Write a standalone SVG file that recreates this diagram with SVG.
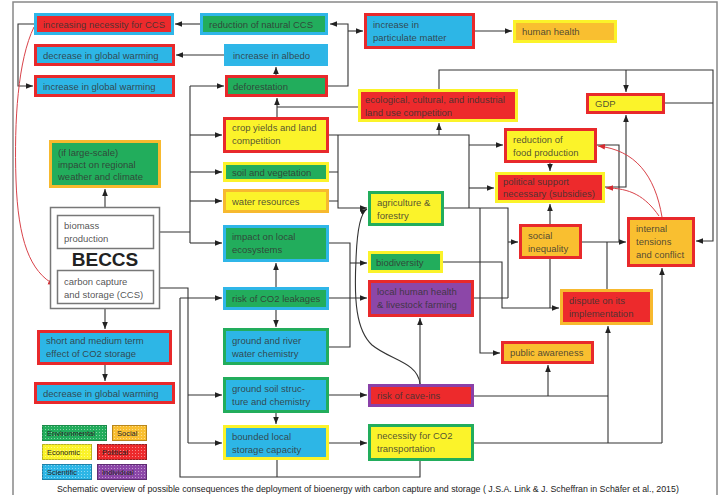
<svg xmlns="http://www.w3.org/2000/svg" width="725" height="495" viewBox="0 0 725 495">
<defs>
<style>
text{font-family:"Liberation Sans",Arial,sans-serif;font-size:9.5px;fill:#333;fill-opacity:0.85}
.n{stroke-width:3}
.fr{fill:#ed2a2c}.fb{fill:#2db6e6}.fg{fill:#22ad5c}.fy{fill:#fbf32a}.fo{fill:#f9bf30}.fp{fill:#8c47a8}
.sr{stroke:#e8292b}.sb{stroke:#2fb6e8}.sg{stroke:#22ad5c}.sy{stroke:#fbf32a}.so{stroke:#f7b92e}.sp{stroke:#8a40a8}
.w{fill:#fff;stroke:#777;stroke-width:1.5}
.c{fill:none;stroke:#333;stroke-width:1.1}
.ca{fill:none;stroke:#333;stroke-width:1.1;marker-end:url(#ah)}
.cr{fill:none;stroke:#d9434a;stroke-width:1;marker-end:url(#ahr)}
.lg{stroke-width:1}
.lt{font-size:7.5px;fill:#222;fill-opacity:1}
</style>
<marker id="ah" viewBox="0 0 10 10" refX="10" refY="5" markerWidth="7" markerHeight="7" markerUnits="userSpaceOnUse" orient="auto"><path d="M0,1 L10,5 L0,9z" fill="#222"/></marker>
<marker id="ahr" viewBox="0 0 10 10" refX="10" refY="5" markerWidth="7" markerHeight="7" markerUnits="userSpaceOnUse" orient="auto"><path d="M0,1 L10,5 L0,9z" fill="#d62a30"/></marker>
<pattern id="dots" width="3" height="3" patternUnits="userSpaceOnUse"><rect width="1" height="1" fill="#fff" opacity="0.45"/></pattern>
</defs>
<rect width="725" height="495" fill="#fff"/>
<rect x="13" y="2" width="704" height="500" fill="none" stroke="#888" stroke-width="1.5"/>

<g id="connectors">
<path class="ca" d="M200,24 H175"/>
<path class="ca" d="M224,55 H176"/>
<path class="ca" d="M34,24 H18 V86 H33"/>
<path class="cr" d="M34,27 C18,60 14,120 16,180 C18,240 30,272 55,285"/>
<path class="ca" d="M276,75 V67"/>
<path class="ca" d="M328,86 H348 V24 H330"/>
<path class="ca" d="M348,31 H363"/>
<path class="ca" d="M475,31 H512"/>
<path class="c" d="M154,232 H190 M190,86 V243"/>
<path class="ca" d="M190,86 H224"/>
<path class="ca" d="M190,135 H222"/>
<path class="ca" d="M190,172 H222"/>
<path class="ca" d="M190,201 H222"/>
<path class="ca" d="M190,243 H222"/>
<path class="ca" d="M105,215 V189"/>
<path class="ca" d="M277,117 V98"/>
<path class="c" d="M358,107 H277"/>
<path class="c" d="M329,135 H469 V208"/>
<path class="ca" d="M439,135 V123"/>
<path class="ca" d="M469,145 H503"/>
<path class="ca" d="M469,188 H494"/>
<path class="c" d="M329,172 H338 M329,201 H338"/>
<path class="ca" d="M338,135 V208 H367"/>
<path class="c" d="M444,208 H508 V298"/>
<path class="ca" d="M480,208 V353 H500"/>
<path class="ca" d="M508,242 H518"/>
<path class="c" d="M329,243 H350 V347 H329"/>
<path class="ca" d="M350,263 H367"/>
<path class="ca" d="M329,298 H367"/>
<path class="ca" d="M443,262 H502 V308 H559"/>
<path class="c" d="M474,298 H508"/>
<path class="c" d="M550,259 V308"/>
<path class="ca" d="M550,224 V204"/>
<path class="ca" d="M582,242 H626"/>
<path class="c" d="M607,242 V289"/>
<path class="c" d="M597,145 H619 V242"/>
<path class="ca" d="M605,187 H626 V115"/>
<path class="ca" d="M550,163 V171"/>
<path class="ca" d="M439,89 V70 H713 V241 H696"/>
<path class="ca" d="M626,70 V92"/>
<path class="c" d="M665,103 H713"/>
<path class="cr" d="M662,217 C655,175 635,150 598,146"/>
<path class="cr" d="M659,216 C645,196 630,188 606,188"/>
<path class="c" d="M154,288 H188 V443"/>
<path class="ca" d="M188,395 H222"/>
<path class="ca" d="M188,443 H222"/>
<path class="c" d="M180,298 V477 H420 V461 M277,460 V477"/>
<path class="ca" d="M180,298 H222"/>
<path class="ca" d="M276,287 V263"/>
<path class="ca" d="M276,310 V327"/>
<path class="ca" d="M276,413 V424"/>
<path class="ca" d="M329,395 H367"/>
<path class="ca" d="M329,443 H367"/>
<path class="ca" d="M420,384 V318"/>
<path class="ca" d="M420,384 C418,362 390,360 372,345 C356,330 354,300 356,260 C357,230 360,213 367,209"/>
<path class="c" d="M474,396 H608"/>
<path class="ca" d="M548,396 V365"/>
<path class="c" d="M474,443 H662"/>
<path class="ca" d="M608,443 V326"/>
<path class="ca" d="M662,443 V268"/>
<path class="ca" d="M105,309 V329"/>
<path class="ca" d="M105,365 V381"/>
</g>

<g id="increasing-necessity"><rect class="n fr sb" x="35.5" y="14.5" width="137" height="19"/><text x="43" y="28">increasing necessity for CCS</text></g>
<g id="reduction-natural-ccs"><rect class="n fg sb" x="201.5" y="14.5" width="125" height="19"/><text x="209" y="28">reduction of natural CCS</text></g>
<g id="decrease-gw-top"><rect class="n fb sr" x="35.5" y="45.5" width="138" height="19"/><text x="43" y="59">decrease in global warming</text></g>
<g id="increase-albedo"><rect class="n fb sb" x="225.5" y="45.5" width="101" height="19"/><text x="233" y="59">increase in albedo</text></g>
<g id="increase-gw"><rect class="n fb sr" x="35.5" y="76.5" width="138" height="19"/><text x="43" y="90">increase in global warming</text></g>
<g id="deforestation"><rect class="n fg sr" x="226.5" y="76.5" width="100" height="19"/><text x="233" y="90">deforestation</text></g>
<g id="particulate"><rect class="n fb sr" x="365.5" y="14.5" width="108" height="33"/><text x="373" y="28">increase in</text><text x="373" y="41">particulate matter</text></g>
<g id="human-health"><rect class="n fo sy" x="514.5" y="21.5" width="101" height="20"/><text x="522" y="35">human health</text></g>
<g id="land-use"><rect class="n fr sy" x="359.5" y="90.5" width="157" height="30"/><text x="365" y="103">ecological, cultural, and industrial</text><text x="365" y="116">land use competition</text></g>
<g id="gdp"><rect class="n fy sr" x="587.5" y="94.5" width="76" height="18"/><text x="595" y="107">GDP</text></g>
<g id="crop-yields"><rect class="n fy sr" x="224.5" y="118.5" width="103" height="33"/><text x="232" y="131">crop yields and land</text><text x="232" y="144">competition</text></g>
<g id="soil-vegetation"><rect class="n fg sy" x="224.5" y="163.5" width="103" height="17"/><text x="232" y="175.5">soil and vegetation</text></g>
<g id="water-resources"><rect class="n fy so" x="224.5" y="190.5" width="103" height="21"/><text x="232" y="204.5">water resources</text></g>
<g id="impact-local"><rect class="n fg sb" x="224.5" y="226.5" width="103" height="34"/><text x="232" y="240">impact on local</text><text x="232" y="253">ecosystems</text></g>
<g id="regional-climate"><rect class="n fg so" x="50.5" y="141.5" width="109" height="45"/><text x="58" y="156">(if large-scale)</text><text x="58" y="168">impact on regional</text><text x="58" y="180">weather and climate</text></g>
<g id="beccs"><rect class="w" x="50.5" y="207.5" width="109" height="101"/><rect class="w" x="57.5" y="215.5" width="96" height="33"/><text x="64" y="229">biomass</text><text x="64" y="242">production</text><text x="105" y="266" text-anchor="middle" style="font-size:19px;font-weight:bold;fill:#222;fill-opacity:1">BECCS</text><rect class="w" x="57.5" y="270.5" width="96" height="33"/><text x="64" y="285">carbon capture</text><text x="64" y="298">and storage (CCS)</text></g>
<g id="short-medium"><rect class="n fb sr" x="38.5" y="331.5" width="132" height="32"/><text x="46" y="344">short and medium term</text><text x="46" y="357">effect of CO2 storage</text></g>
<g id="decrease-gw-bottom"><rect class="n fb sr" x="35.5" y="383.5" width="138" height="19"/><text x="43" y="397">decrease in global warming</text></g>
<g id="risk-co2"><rect class="n fg sb" x="224.5" y="288.5" width="103" height="20"/><text x="232" y="302">risk of CO2 leakages</text></g>
<g id="ground-river"><rect class="n fb sg" x="224.5" y="329.5" width="103" height="34"/><text x="232" y="344">ground and river</text><text x="232" y="357">water chemistry</text></g>
<g id="ground-soil"><rect class="n fb sg" x="224.5" y="378.5" width="103" height="33"/><text x="232" y="392">ground soil struc-</text><text x="232" y="405">ture and chemistry</text></g>
<g id="bounded-storage"><rect class="n fb sy" x="224.5" y="426.5" width="103" height="32"/><text x="232" y="440">bounded local</text><text x="232" y="453">storage capacity</text></g>
<g id="agriculture"><rect class="n fy sg" x="369.5" y="192.5" width="73" height="32"/><text x="377" y="206">agriculture &amp;</text><text x="377" y="219">forestry</text></g>
<g id="biodiversity"><rect class="n fg sy" x="369.5" y="252.5" width="72" height="19"/><text x="376" y="266">biodiversity</text></g>
<g id="local-health"><rect class="n fp sr" x="369.5" y="281.5" width="103" height="34"/><text x="377" y="295">local human health</text><text x="377" y="308">&amp; livestock farming</text></g>
<g id="cave-ins"><rect class="n fr sp" x="369.5" y="385.5" width="103" height="20"/><text x="377" y="399">risk of cave-ins</text></g>
<g id="co2-transport"><rect class="n fy sg" x="369.5" y="425.5" width="103" height="34"/><text x="377" y="439">necessity for CO2</text><text x="377" y="452">transportation</text></g>
<g id="public-awareness"><rect class="n fo sr" x="502.5" y="342.5" width="90" height="20"/><text x="510" y="356">public awareness</text></g>
<g id="dispute"><rect class="n fr so" x="561.5" y="290.5" width="90" height="33"/><text x="569" y="304">dispute on its</text><text x="569" y="317">implementation</text></g>
<g id="food-production"><rect class="n fy sr" x="505.5" y="129.5" width="90" height="32"/><text x="513" y="143">reduction of</text><text x="513" y="156">food production</text></g>
<g id="political-support"><rect class="n fr sy" x="496.5" y="173.5" width="107" height="28"/><text x="503" y="185">political support</text><text x="503" y="197">necessary (subsidies)</text></g>
<g id="social-inequality"><rect class="n fo sr" x="520.5" y="225.5" width="60" height="32"/><text x="528" y="239">social</text><text x="528" y="252">inequality</text></g>
<g id="internal-tensions"><rect class="n fo sr" x="628.5" y="218.5" width="65" height="47"/><text x="636" y="232">internal</text><text x="636" y="245">tensions</text><text x="636" y="258">and conflict</text></g>

<g id="legend">
<rect class="lg" x="42.5" y="425.5" width="64" height="15" fill="#22ad5c" stroke="#1a8a48"/><rect x="42.5" y="425.5" width="64" height="15" fill="url(#dots)"/><text class="lt" x="47" y="436">Environmental</text>
<rect class="lg" x="112.5" y="425.5" width="34" height="15" fill="#f9bf30" stroke="#b8861c"/><rect x="112.5" y="425.5" width="34" height="15" fill="url(#dots)"/><text class="lt" x="117" y="436">Social</text>
<rect class="lg" x="42.5" y="444.5" width="49" height="15" fill="#fbf32a" stroke="#b8b21c"/><rect x="42.5" y="444.5" width="49" height="15" fill="url(#dots)"/><text class="lt" x="47" y="455">Economic</text>
<rect class="lg" x="97.5" y="444.5" width="49" height="15" fill="#ed2a2c" stroke="#9e1c1e"/><rect x="97.5" y="444.5" width="49" height="15" fill="url(#dots)"/><text class="lt" x="102" y="455">Political</text>
<rect class="lg" x="42.5" y="464.5" width="49" height="15" fill="#2db6e6" stroke="#1e80a8"/><rect x="42.5" y="464.5" width="49" height="15" fill="url(#dots)"/><text class="lt" x="47" y="475">Scientific</text>
<rect class="lg" x="97.5" y="464.5" width="49" height="15" fill="#8c47a8" stroke="#5e2c72"/><rect x="97.5" y="464.5" width="49" height="15" fill="url(#dots)"/><text class="lt" x="102" y="475">Individual</text>
</g>

<text x="57" y="492" style="font-size:8.8px;fill:#222;fill-opacity:1">Schematic overview of possible consequences the deployment of bioenergy with carbon capture and storage ( J.S.A. Link &amp; J. Scheffran in Schäfer et al., 2015)</text>
</svg>
